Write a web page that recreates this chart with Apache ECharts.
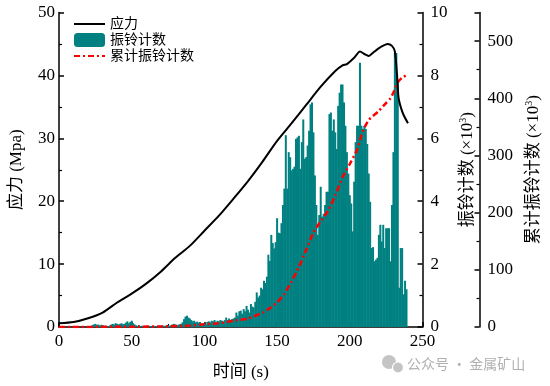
<!DOCTYPE html>
<html>
<head>
<meta charset="utf-8">
<script src="https://cdn.jsdelivr.net/npm/echarts@6/dist/echarts.min.js"></script>
<style>html,body{margin:0;padding:0;background:#fff}#c{width:550px;height:386px}</style>
</head>
<body>
<div id="c"></div>
<script>
// ---- data ----
const stressTime = [0,10,20,30,40,50,60,70,80,90,100,110,120,130,140,150,160,170,180,190,195,198,203,207,210,213,217,222,226,229,231,232.5,233.5,235,237,240];
const stressVal  = [0.6,0.8,1.4,2.3,3.9,5.3,6.9,8.8,11.0,12.9,15.3,17.7,20.4,23.2,26.3,29.6,32.4,35.3,38.2,40.7,41.6,41.8,42.8,43.8,43.4,43.1,43.8,44.6,45.0,44.7,43.8,40.0,36.5,35.0,33.7,32.4];

const cumTime = [0,50,70,90,100,110,120,130,140,145,150,155,160,165,170,175,180,185,190,195,200,205,208,210,213,220,225,228,230,233,236,240];
const cumVal  = [0,0.5,1,2.5,5,6.5,11,15,25,33,43,58,80,105,135,165,185,203,230,262,285,310,335,348,362,378,392,400,410,428,436,442];

const ringStart = 20; // first 1-s bin (s)
const ringVal = [
 0.02,0.03,0.02,0.06,0.08,0.10,0.06,0.08,0.05,0.07,
 0.06,0.04,0.03,0.02,0.03,0.05,0.08,0.10,0.08,0.12,
 0.10,0.08,0.10,0.12,0.09,0.10,0.14,0.18,0.12,0.16,
 0.20,0.12,0.08,0.05,0.04,0.06,0.03,0.04,0.02,0.03,
 0.02,0.02,0.03,0.02,0.03,0.04,0.03,0.02,0.03,0.04,
 0.03,0.05,0.04,0.03,0.05,0.06,0.04,0.05,0.08,0.10,
 0.08,0.06,0.07,0.09,0.10,0.15,0.25,0.33,0.36,0.30,
 0.27,0.22,0.18,0.20,0.15,0.17,0.14,0.16,0.10,0.12,
 0.10,0.08,0.16,0.18,0.15,0.20,0.18,0.22,0.16,0.20,
 0.18,0.22,0.20,0.17,0.22,0.30,0.22,0.27,0.20,0.25,
 0.27,0.30,0.46,0.36,0.50,0.52,0.42,0.57,0.50,0.67,
 0.55,0.46,0.73,0.65,0.62,0.80,1.10,0.94,1.00,1.25,
 1.20,1.47,1.40,1.60,2.30,2.10,2.93,2.67,2.50,2.70,
 3.46,3.00,2.98,3.30,3.88,4.40,6.10,4.40,5.56,5.40,
 4.98,5.03,5.10,5.98,6.03,6.08,5.03,5.88,6.60,5.35,
 5.40,5.77,6.24,7.08,7.14,6.19,4.82,3.88,2.93,3.56,
 4.46,3.51,3.60,3.88,4.30,4.30,6.77,6.82,6.24,6.60,
 6.19,5.66,7.03,7.45,7.71,7.71,7.14,6.40,5.56,4.88,
 4.19,3.93,3.04,4.62,5.88,6.40,6.40,8.40,6.40,6.30,
 6.40,6.30,5.82,4.88,3.98,2.51,2.54,2.09,2.14,2.20,
 2.93,3.25,2.72,3.25,2.51,3.14,3.14,3.14,2.09,3.88,
 5.56,8.71,8.71,7.77,1.25,2.51,2.51,1.04,1.47,1.20
];

const xTicks = [0,50,100,150,200,250];
const seriesNames = ['应力','振铃计数','累计振铃计数'];

// ---- build ----
const FONT = "'Liberation Serif','Noto Sans CJK SC',serif";
const stressData = stressTime.map((t,i)=>[t, stressVal[i]]);
const cumData = cumTime.map((t,i)=>[t, cumVal[i]]);
const ringData = ringVal.map((v,i)=>[ringStart + i, v]);

const axisLineStyle = {color:'#000', width:1.5};
function yAxisBase(extra){
  return Object.assign({
    type:'value',
    nameLocation:'middle',
    nameRotate:90,
    nameTextStyle:{fontSize:17, color:'#000', fontFamily:FONT,
      rich:{sup:{fontSize:10, verticalAlign:'top', color:'#000', fontFamily:FONT, padding:[0,0,8,0]}}},
    axisLine:{show:true, lineStyle:axisLineStyle},
    axisTick:{show:true, inside:true, length:5, lineStyle:{color:'#000', width:1.5}},
    minorTick:{show:true, splitNumber:2, length:3, lineStyle:{color:'#000', width:1.2}},
    axisLabel:{color:'#000', fontSize:17, fontFamily:FONT, margin:6},
    splitLine:{show:false}
  }, extra);
}

const chart = echarts.init(document.getElementById('c'), null, {renderer:'canvas'});
chart.setOption({
  animation:false,
  backgroundColor:'#fff',
  textStyle:{fontFamily:FONT},
  grid:{left:53, right:121, top:12.5, bottom:56, containLabel:false},
  legend:{
    orient:'vertical', left:68, top:12, itemWidth:31, itemHeight:14, itemGap:2,
    textStyle:{fontSize:14, color:'#000', fontFamily:FONT},
    data:[
      {name:seriesNames[0], itemStyle:{opacity:0}},
      {name:seriesNames[1]},
      {name:seriesNames[2], itemStyle:{opacity:0}}
    ]
  },
  xAxis:{
    type:'value', min:xTicks[0], max:xTicks[xTicks.length-1], interval:50,
    name:'时间 (s)', nameLocation:'middle', nameGap:37,
    nameTextStyle:{fontSize:17, color:'#000', fontFamily:FONT},
    axisLine:{show:true, lineStyle:axisLineStyle},
    axisTick:{show:true, inside:true, length:5, lineStyle:{color:'#000', width:1.5}},
    minorTick:{show:true, splitNumber:2, length:3, lineStyle:{color:'#000', width:1.2}},
    axisLabel:{color:'#000', fontSize:17, fontFamily:FONT, margin:6},
    splitLine:{show:false}
  },
  yAxis:[
    yAxisBase({position:'left', min:0, max:50, interval:10, name:'应力 (Mpa)', nameGap:34,
      axisLabel:{color:'#000', fontSize:17, fontFamily:FONT, margin:4}}),
    yAxisBase({position:'right', min:0, max:10, interval:2, name:'振铃计数 (×10{sup|3})', nameGap:27,
      axisLabel:{color:'#000', fontSize:17, fontFamily:FONT, margin:8}}),
    yAxisBase({position:'right', offset:57, min:0, max:550, interval:100, name:'累计振铃计数 (×10{sup|3})', nameGap:45,
      axisLabel:{color:'#000', fontSize:17, fontFamily:FONT, margin:8, showMaxLabel:false}})
  ],
  series:[
    {name:seriesNames[1], type:'bar', yAxisIndex:1, data:ringData, barWidth:2,
     itemStyle:{color:'#008080'}, z:1, silent:true},
    {name:seriesNames[2], type:'line', yAxisIndex:2, data:cumData, symbol:'none', smooth:0.2,
     lineStyle:{color:'#ff0000', width:2.5, type:[6,3,2,3]}, itemStyle:{color:'#ff0000'}, z:3},
    {name:seriesNames[0], type:'line', yAxisIndex:0, data:stressData, symbol:'none', smooth:0.25,
     lineStyle:{color:'#000', width:2}, itemStyle:{color:'#000'}, z:4}
  ],
  graphic:[
    {type:'circle', shape:{cx:389, cy:362, r:7}, style:{fill:'#c4c4c4'}},
    {type:'circle', shape:{cx:398, cy:367.5, r:5.5}, style:{fill:'#c4c4c4', stroke:'#fff', lineWidth:1.2}},
    {type:'text', left:407, top:357, style:{text:'公众号 · 金属矿山', fontSize:14, fill:'#b0b0b0', fontFamily:"'Noto Sans CJK SC',sans-serif"}}
  ]
});
</script>
</body>
</html>
